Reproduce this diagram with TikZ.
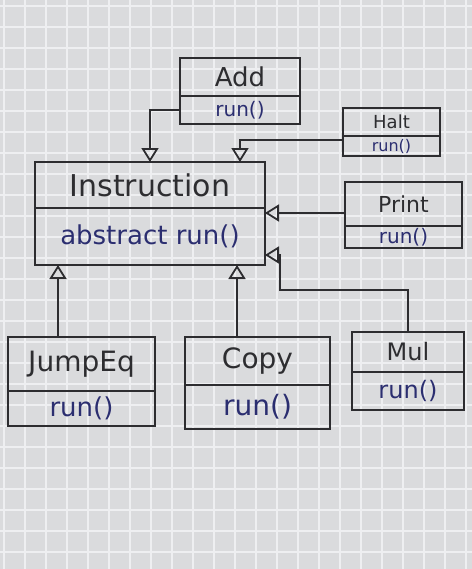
\documentclass[tikz,border=0pt]{standalone}
\usepackage{fontspec}
\setmainfont{DejaVu Sans}
\usetikzlibrary{arrows.meta}
\definecolor{paper}{RGB}{218,219,221}
\definecolor{gridc}{RGB}{238,239,241}
\definecolor{ink}{RGB}{45,45,48}
\definecolor{pen}{RGB}{43,46,112}
\tikzset{
  cname/.style={draw=ink, line width=0.9pt, anchor=north west, inner sep=1pt, outer sep=0pt, text=ink, align=center},
  cmeth/.style={draw=ink, line width=0.9pt, anchor=north, inner sep=1pt, outer sep=0pt, text=pen, align=center},
  gen/.style={draw=ink, line width=0.9pt, -{Triangle[open, length=7pt, width=8.5pt]}}
}
\begin{document}
\begin{tikzpicture}[x=0.5pt,y=-0.5pt]
\fill[paper] (0,0) rectangle (472,569);
\useasboundingbox (0,0) rectangle (472,569);
\foreach \i in {0,...,22} {\draw[gridc, line width=0.6pt] (\i*21+4,0) -- (\i*21+4,569);}
\foreach \j in {0,...,27} {\draw[gridc, line width=0.6pt] (0,\j*21+6) -- (472,\j*21+6);}

% Add
\node[cname, minimum width=60pt, minimum height=19pt, font=\fontsize{13}{15}\selectfont] (addN) at (180,58) {Add};
\node[cmeth, minimum width=60pt, minimum height=14pt, font=\fontsize{10}{12}\selectfont] (addM) at (addN.south) {run()};
% Halt
\node[cname, minimum width=48.5pt, minimum height=14pt, font=\fontsize{9}{11}\selectfont] (haltN) at (343,108) {Halt};
\node[cmeth, minimum width=48.5pt, minimum height=10pt, font=\fontsize{8}{10}\selectfont] (haltM) at (haltN.south) {run()};
% Instruction
\node[cname, minimum width=115pt, minimum height=23pt, font=\fontsize{15}{17}\selectfont] (instrN) at (35,162) {Instruction};
\node[cmeth, minimum width=115pt, minimum height=28.5pt, font=\fontsize{13}{15}\selectfont] (instrM) at (instrN.south) {abstract run()};
\coordinate (instrE) at (instrN.north east |- 0,213);
% Print
\node[cname, minimum width=58.5pt, minimum height=22pt, font=\fontsize{11}{13}\selectfont] (printN) at (345,182) {Print};
\node[cmeth, minimum width=58.5pt, minimum height=11pt, font=\fontsize{10}{12}\selectfont] (printM) at (printN.south) {run()};
% JumpEq
\node[cname, minimum width=73.5pt, minimum height=27pt, font=\fontsize{14}{16}\selectfont] (jumpN) at (8,337) {JumpEq};
\node[cmeth, minimum width=73.5pt, minimum height=17.5pt, font=\fontsize{13}{15}\selectfont] (jumpM) at (jumpN.south) {run()};
% Copy
\node[cname, minimum width=72.5pt, minimum height=24pt, font=\fontsize{14}{16}\selectfont] (copyN) at (185,337) {Copy};
\node[cmeth, minimum width=72.5pt, minimum height=22pt, font=\fontsize{14}{16}\selectfont] (copyM) at (copyN.south) {run()};
% Mul
\node[cname, minimum width=56pt, minimum height=20pt, font=\fontsize{12}{14}\selectfont] (mulN) at (352,332) {Mul};
\node[cmeth, minimum width=56pt, minimum height=19pt, font=\fontsize{12}{14}\selectfont] (mulM) at (mulN.south) {run()};

% generalisations
\draw[gen] (addM.west) -| (instrN.north);
\draw[gen] ([yshift=-2pt]haltN.south west) -| ([xshift=-12.5pt]instrN.north east);
\draw[gen] (printN.west |- instrE) -- (instrE);
\coordinate (m1) at (280,290);
\draw[gen] (mulN.north) |- (m1) |- ([yshift=-21pt]instrE);
\draw[gen] ([xshift=25pt]jumpN.north west) -- ([xshift=25pt]jumpN.north west |- instrM.south);
\draw[gen] ([xshift=26pt]copyN.north west) -- ([xshift=26pt]copyN.north west |- instrM.south);
\end{tikzpicture}
\end{document}
